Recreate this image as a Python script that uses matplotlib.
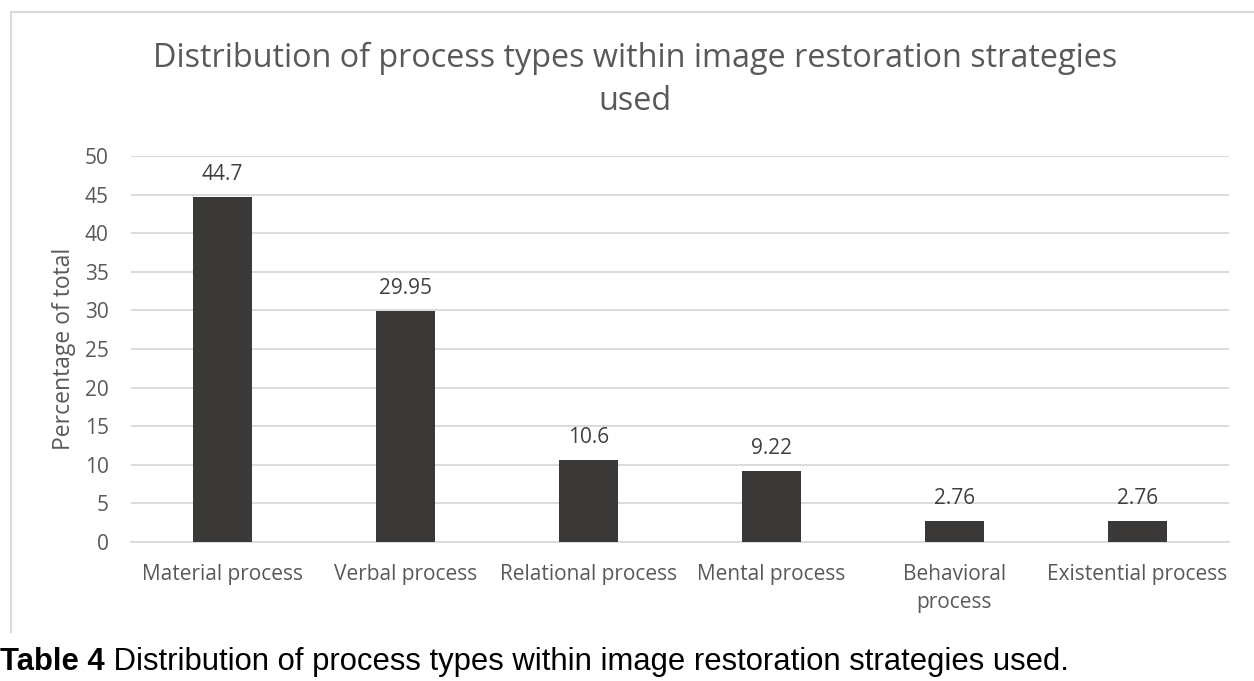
import matplotlib
matplotlib.use("Agg")
import matplotlib.pyplot as plt
from matplotlib.lines import Line2D

categories = ["Material process", "Verbal process", "Relational process",
              "Mental process", "Behavioral\nprocess", "Existential process"]
values = [44.7, 29.95, 10.6, 9.22, 2.76, 2.76]
value_labels = ["44.7", "29.95", "10.6", "9.22", "2.76", "2.76"]
yticks = [0, 5, 10, 15, 20, 25, 30, 35, 40, 45, 50]

W, H = 1254, 681
fig = plt.figure(figsize=(W / 100, H / 100), dpi=100)
fig.patch.set_facecolor("white")

FONT = "Open Sans"
GREY = "#595959"

# chart border (left, top)
fig.add_artist(Line2D([11 / W, 11 / W], [1 - 12 / H, 1 - 632 / H], color="#D9D9D9", lw=1.5))
fig.add_artist(Line2D([11 / W, 1.0], [1 - 12 / H, 1 - 12 / H], color="#D9D9D9", lw=1.5))

ax = fig.add_axes([131 / W, 1 - 542 / H, (1229 - 131) / W, (542 - 156) / H])
x = list(range(len(categories)))
ax.bar(x, values, width=0.317, color="#3A3938", zorder=3)
ax.set_xlim(-0.5, len(categories) - 0.5)
ax.set_ylim(0, 50)
ax.set_yticks(yticks)
ax.set_xticks(x)
ax.set_xticklabels(categories, fontsize=15, color=GREY, family=FONT, linespacing=1.44)
ax.set_yticklabels([str(t) for t in yticks], fontsize=15, color=GREY, family=FONT)
ax.tick_params(axis="both", length=0)
ax.tick_params(axis="x", pad=16)
ax.tick_params(axis="y", pad=16)
ax.grid(axis="y", color="#D9D9D9", lw=1.3, zorder=0)
for s in ["top", "right", "left"]:
    ax.spines[s].set_visible(False)
ax.spines["bottom"].set_color("#D9D9D9")
ax.spines["bottom"].set_linewidth(1.3)

for xi, v, lab in zip(x, values, value_labels):
    ax.annotate(lab, (xi, v), xytext=(0, 16), textcoords="offset points",
                ha="center", va="center", fontsize=15, color="#404040", family=FONT)

ax.set_ylabel("Percentage of total", fontsize=16.5, color=GREY, family=FONT, labelpad=6)

fig.text(635 / W, 1 - 80 / H, "Distribution of process types within image restoration strategies\nused",
         ha="center", va="center", fontsize=23.3, color=GREY, family=FONT, linespacing=1.38)

t1 = fig.text(0, 1 - 670 / H, "Table 4", ha="left", va="baseline", fontsize=22.35,
              family="Liberation Sans", weight="bold", color="black")
fig.canvas.draw()
bb = t1.get_window_extent()
fig.text(bb.x1 / W, 1 - 670 / H, " Distribution of process types within image restoration strategies used.",
         ha="left", va="baseline", fontsize=22.35, family="Liberation Sans", color="black")

fig.savefig("out.png", dpi=100)
